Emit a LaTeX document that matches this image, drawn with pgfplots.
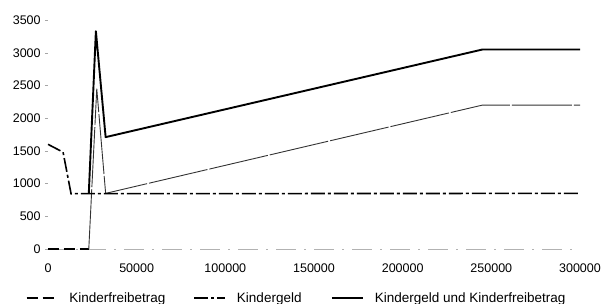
\documentclass[border=0pt]{standalone}
\usepackage{fontspec}
\setmainfont{Liberation Sans}
\usepackage{pgfplots}
\pgfplotsset{compat=1.18}
\begin{document}
\fontsize{12.5pt}{14pt}\selectfont
\begin{tikzpicture}
\useasboundingbox (-48pt,-49.8pt) rectangle (555pt,254.2pt);
\begin{axis}[
  scale only axis,
  width=532pt, height=237.4pt,
  xmin=0, xmax=300000, ymin=-80, ymax=3550,
  clip=false,
  axis line style={draw=none},
  scaled x ticks=false, scaled y ticks=false,
  xtick={0,50000,100000,150000,200000,250000,300000},
  xticklabels={0,50000,100000,150000,200000,250000,300000},
  ytick={0,500,1000,1500,2000,2500,3000,3500},
  yticklabels={0,500,1000,1500,2000,2500,3000,3500},
  xtick style={draw=none},
  ytick style={gray!70, thin},
  ytick pos=left, tick align=outside, major tick length=3pt,
  tick label style={font=\fontsize{12.5pt}{14pt}\selectfont},
  xticklabel style={yshift=-2pt},
  legend columns=3,
  legend style={draw=none, fill=none, at={(-0.044,-0.147)}, anchor=north west,
    font=\fontsize{13.5pt}{15pt}\selectfont, inner sep=1pt},
  legend cell align=left,
  /tikz/every even column/.append style={column sep=0pt},
  legend image code/.code={\draw[#1] (0pt,0pt) -- (31pt,0pt);},
]
% faint base line at zero
\addplot[gray!60, thin, dash pattern=on 20pt off 8pt on 2pt off 8pt, forget plot]
  coordinates {(0,0) (300000,0)};
% Kinderfreibetrag
\addplot[black, line width=1.6pt, dash pattern=on 11pt off 5pt]
  coordinates {(0,0) (23000,0)};
\addlegendentry{\makebox[131pt][l]{\hspace*{9pt}Kinderfreibetrag}}
\addplot[black!80, line width=0.9pt, forget plot, dash pattern=on 60pt off 2pt]
  coordinates {(23000,0) (27500,2450) (32500,850) (245000,2200) (300000,2200)};
% Kindergeld
\addplot[black, line width=1.6pt, dash pattern=on 14pt off 3pt on 3pt off 3pt]
  coordinates {(0,1600) (8500,1480) (13000,845) (300000,850)};
\addlegendentry{\makebox[101pt][l]{\hspace*{9pt}Kindergeld}}
% Kindergeld und Kinderfreibetrag
\addplot[black, line width=1.9pt, line join=round]
  coordinates {(23000,845) (27000,3330) (32500,1710) (245000,3050) (300000,3050)};
\addlegendentry{\hspace*{9pt}Kindergeld und Kinderfreibetrag}
\end{axis}
\end{tikzpicture}
\end{document}
